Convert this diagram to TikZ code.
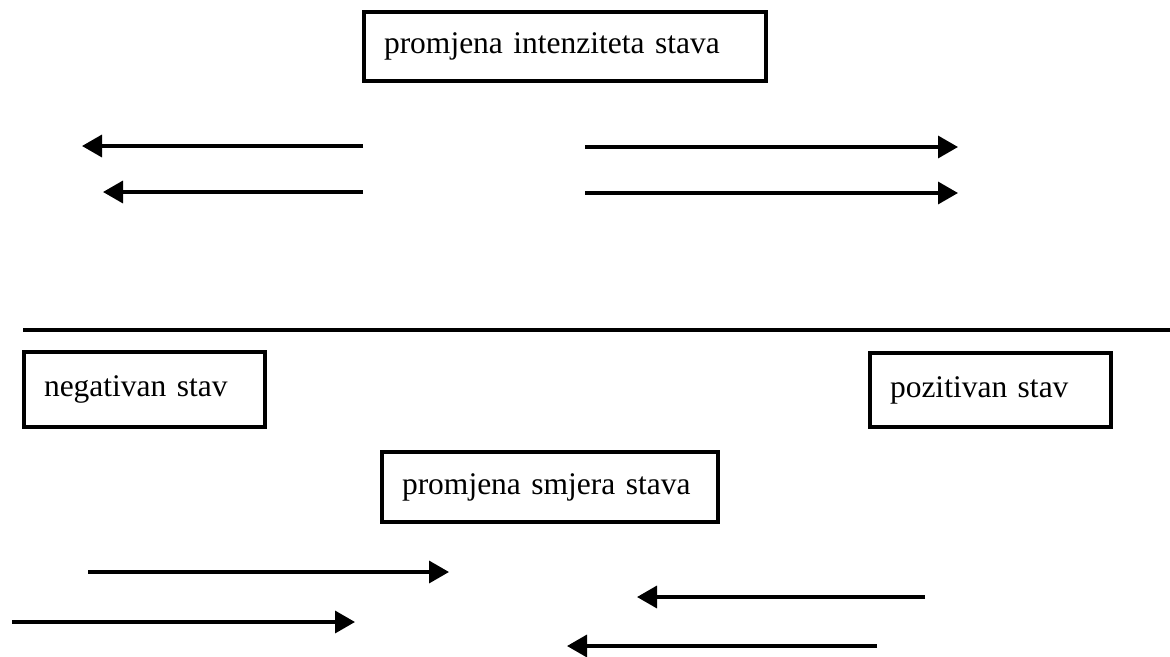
\documentclass[tikz,border=0pt]{standalone}
\usepackage{fontspec}
\setmainfont{Liberation Serif}
\usetikzlibrary{arrows.meta}

\tikzset{
    stavbox/.style={draw, line width=4pt, inner xsep=20pt, align=left,
        font=\fontsize{31.5}{36}\selectfont},
    strelica/.style={line width=3.5pt, -{Triangle[length=20pt,width=22pt]}}
}

\begin{document}
\begin{tikzpicture}[x=1pt, y=-1pt]
            \useasboundingbox (0,0) rectangle (1170,656);
            % okviri
            \node[stavbox, text width=362pt, minimum height=69pt] (intenzitet) at (565,46.5) {promjena intenziteta stava};
            \node[stavbox, text width=201pt, minimum height=75pt] (negativan) at (144.5,389.5) {negativan stav};
            \node[stavbox, text width=201pt, minimum height=74pt] (pozitivan) at (990.5,390) {pozitivan stav};
            \node[stavbox, text width=296pt, minimum height=70pt] (smjer) at (550,487) {promjena smjera stava};
            % razdjelna crta
            \coordinate (crtaL) at (23,330);
            \coordinate (crtaD) at (1170,330);
            \draw[line width=3.5pt] (crtaL) -- (crtaD);
            % strelice gore
            \coordinate (g1a) at (363,146); \coordinate (g1b) at (82,146);
            \coordinate (g2a) at (363,192); \coordinate (g2b) at (103,192);
            \coordinate (g3a) at (585,147); \coordinate (g3b) at (958,147);
            \coordinate (g4a) at (585,193); \coordinate (g4b) at (958,193);
            \draw[strelica] (g1a) -- (g1b);
            \draw[strelica] (g2a) -- (g2b);
            \draw[strelica] (g3a) -- (g3b);
            \draw[strelica] (g4a) -- (g4b);
            % strelice dolje
            \coordinate (d1a) at (88,572); \coordinate (d1b) at (449,572);
            \coordinate (d2a) at (12,622); \coordinate (d2b) at (355,622);
            \coordinate (d3a) at (925,597); \coordinate (d3b) at (637,597);
            \coordinate (d4a) at (877,646); \coordinate (d4b) at (567,646);
            \draw[strelica] (d1a) -- (d1b);
            \draw[strelica] (d2a) -- (d2b);
            \draw[strelica] (d3a) -- (d3b);
            \draw[strelica] (d4a) -- (d4b);
        \end{tikzpicture}
\end{document}
